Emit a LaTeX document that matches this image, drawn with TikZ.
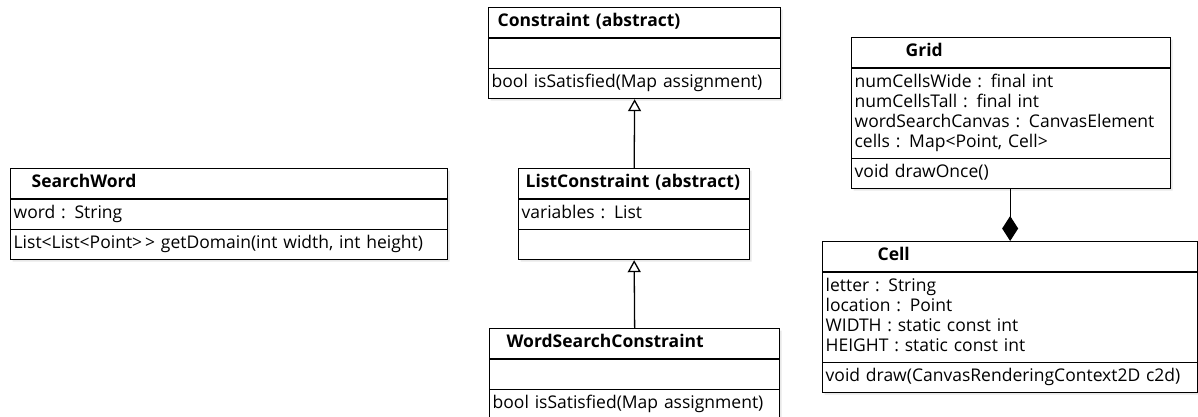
\documentclass[tikz,border=0pt]{standalone}
\usepackage{fontspec}
\setmainfont{Open Sans}
\usetikzlibrary{shapes.multipart,arrows.meta,shadows}

\begin{document}
\begin{tikzpicture}[
    x=1pt, y=-1pt,
    umlclass/.style={
        rectangle split,
        rectangle split parts=3,
        draw=black,
        line width=1.3pt,
        fill=white,
        inner xsep=3pt,
        inner ysep=4.5pt,
        align=left,
        anchor=north west,
        font=\fontsize{17.5}{20}\selectfont,
        drop shadow={shadow xshift=2pt, shadow yshift=-2pt, fill=black!18}
    },
    inherit/.style={
        draw=black,
        line width=1.3pt,
        -{Triangle[open, length=12pt, width=13pt]}
    },
    compose/.style={
        draw=black,
        line width=1.3pt,
        -{Diamond[length=25pt, width=16pt]}
    }
]
\useasboundingbox (0,0) rectangle (1198,416);

% Klassen links en midden
\node[umlclass, text width=431pt] (searchword) at (10,168)
    {\strut\hspace*{18pt}\textbf{SearchWord}
     \nodepart{second}\strut word : String
     \nodepart{third}\strut List<List<Point>\,> getDomain(int width, int height)};

\node[umlclass, text width=286pt] (constraint) at (488,7)
    {\strut\hspace*{6pt}\textbf{Constraint (abstract)}
     \nodepart{second}\strut
     \nodepart{third}\strut bool isSatisfied(Map assignment)};

\node[umlclass, text width=225pt] (listconstraint) at (518,168)
    {\strut\hspace*{4pt}\textbf{ListConstraint (abstract)}
     \nodepart{second}\strut variables : List
     \nodepart{third}\strut};

\node[umlclass, text width=284pt] (wordsearchconstraint) at (489,328)
    {\strut\hspace*{14pt}\textbf{WordSearchConstraint}
     \nodepart{second}\strut
     \nodepart{third}\strut bool isSatisfied(Map assignment)};

% Klassen rechts
\node[umlclass, text width=313pt] (grid) at (851,37)
    {\strut\hspace*{51pt}\textbf{Grid}
     \nodepart{second}\strut numCellsWide : final int\\
     \strut numCellsTall : final int\\
     \strut wordSearchCanvas : CanvasElement\\
     \strut cells : Map<Point, Cell>
     \nodepart{third}\strut void drawOnce()};

\node[umlclass, text width=369pt] (cell) at (822,241)
    {\strut\hspace*{52pt}\textbf{Cell}
     \nodepart{second}\strut letter : String\\
     \strut location : Point\\
     \strut WIDTH : static const int\\
     \strut HEIGHT : static const int
     \nodepart{third}\strut void draw(CanvasRenderingContext2D c2d)};

% Verbindingen
\draw[inherit] (listconstraint.north) -- (constraint.south);
\draw[inherit] (wordsearchconstraint.north) -- (listconstraint.south);
\draw[compose] (grid.south -| cell.north) -- (cell.north);

\end{tikzpicture}
\end{document}
